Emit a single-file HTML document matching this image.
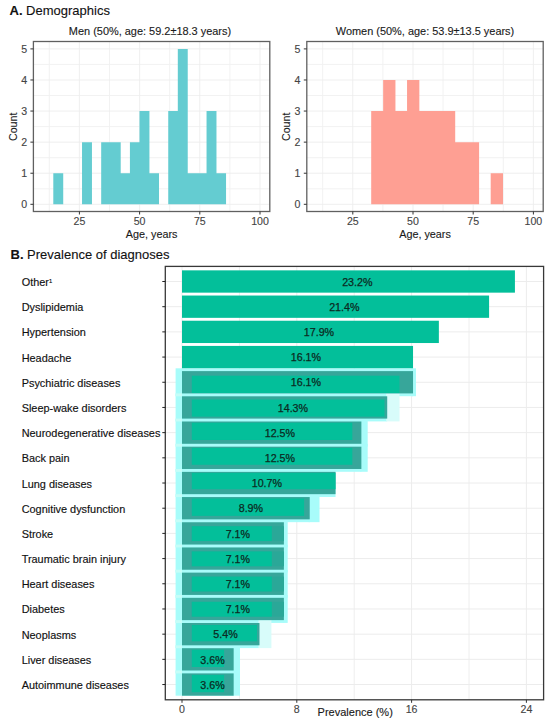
<!DOCTYPE html>
<html><head><meta charset="utf-8"><style>
html,body{margin:0;padding:0;background:#fff;}
svg{display:block;font-family:"Liberation Sans", sans-serif;}
</style></head><body>
<svg width="550" height="723" viewBox="0 0 550 723">
<rect x="0" y="0" width="550" height="723" fill="#fff"/>
<text x="9.50" y="15.00" font-size="13" fill="#111" text-anchor="start"  stroke="#111" stroke-width="0.12"><tspan font-weight="bold">A.</tspan> Demographics</text>
<line x1="49.30" y1="41.50" x2="49.30" y2="211.50" stroke="#f0f0f0" stroke-width="0.9"/>
<line x1="109.50" y1="41.50" x2="109.50" y2="211.50" stroke="#f0f0f0" stroke-width="0.9"/>
<line x1="169.70" y1="41.50" x2="169.70" y2="211.50" stroke="#f0f0f0" stroke-width="0.9"/>
<line x1="229.90" y1="41.50" x2="229.90" y2="211.50" stroke="#f0f0f0" stroke-width="0.9"/>
<line x1="33.40" y1="188.76" x2="269.80" y2="188.76" stroke="#f0f0f0" stroke-width="0.9"/>
<line x1="33.40" y1="157.68" x2="269.80" y2="157.68" stroke="#f0f0f0" stroke-width="0.9"/>
<line x1="33.40" y1="126.60" x2="269.80" y2="126.60" stroke="#f0f0f0" stroke-width="0.9"/>
<line x1="33.40" y1="95.52" x2="269.80" y2="95.52" stroke="#f0f0f0" stroke-width="0.9"/>
<line x1="33.40" y1="64.44" x2="269.80" y2="64.44" stroke="#f0f0f0" stroke-width="0.9"/>
<line x1="79.40" y1="41.50" x2="79.40" y2="211.50" stroke="#ededed" stroke-width="0.9"/>
<line x1="139.60" y1="41.50" x2="139.60" y2="211.50" stroke="#ededed" stroke-width="0.9"/>
<line x1="199.80" y1="41.50" x2="199.80" y2="211.50" stroke="#ededed" stroke-width="0.9"/>
<line x1="260.00" y1="41.50" x2="260.00" y2="211.50" stroke="#ededed" stroke-width="0.9"/>
<line x1="33.40" y1="204.30" x2="269.80" y2="204.30" stroke="#ededed" stroke-width="0.9"/>
<line x1="33.40" y1="173.22" x2="269.80" y2="173.22" stroke="#ededed" stroke-width="0.9"/>
<line x1="33.40" y1="142.14" x2="269.80" y2="142.14" stroke="#ededed" stroke-width="0.9"/>
<line x1="33.40" y1="111.06" x2="269.80" y2="111.06" stroke="#ededed" stroke-width="0.9"/>
<line x1="33.40" y1="79.98" x2="269.80" y2="79.98" stroke="#ededed" stroke-width="0.9"/>
<line x1="33.40" y1="48.90" x2="269.80" y2="48.90" stroke="#ededed" stroke-width="0.9"/>
<path d="M53.30 204.30V173.22H63.23V204.30ZM82.03 204.30V142.14H91.96V204.30ZM101.19 204.30V142.14H111.12V204.30ZM110.77 204.30V142.14H120.70V204.30ZM120.35 204.30V173.22H130.27V204.30ZM129.92 204.30V142.14H139.85V204.30ZM139.50 204.30V111.06H149.43V204.30ZM149.08 204.30V173.22H159.01V204.30ZM168.24 204.30V111.06H178.16V204.30ZM177.81 204.30V48.90H187.74V204.30ZM187.39 204.30V173.22H197.32V204.30ZM196.97 204.30V173.22H206.90V204.30ZM206.55 204.30V111.06H216.48V204.30ZM216.13 204.30V173.22H226.05V204.30Z" fill="#64ccd1"/>
<rect x="33.40" y="41.50" width="236.40" height="170.00" fill="none" stroke="#606060" stroke-width="1.3"/>
<line x1="30.40" y1="204.30" x2="33.40" y2="204.30" stroke="#333" stroke-width="1"/>
<text x="27.10" y="208.10" font-size="10.6" fill="#444444" text-anchor="end"  stroke="#444444" stroke-width="0.12">0</text>
<line x1="30.40" y1="173.22" x2="33.40" y2="173.22" stroke="#333" stroke-width="1"/>
<text x="27.10" y="177.02" font-size="10.6" fill="#444444" text-anchor="end"  stroke="#444444" stroke-width="0.12">1</text>
<line x1="30.40" y1="142.14" x2="33.40" y2="142.14" stroke="#333" stroke-width="1"/>
<text x="27.10" y="145.94" font-size="10.6" fill="#444444" text-anchor="end"  stroke="#444444" stroke-width="0.12">2</text>
<line x1="30.40" y1="111.06" x2="33.40" y2="111.06" stroke="#333" stroke-width="1"/>
<text x="27.10" y="114.86" font-size="10.6" fill="#444444" text-anchor="end"  stroke="#444444" stroke-width="0.12">3</text>
<line x1="30.40" y1="79.98" x2="33.40" y2="79.98" stroke="#333" stroke-width="1"/>
<text x="27.10" y="83.78" font-size="10.6" fill="#444444" text-anchor="end"  stroke="#444444" stroke-width="0.12">4</text>
<line x1="30.40" y1="48.90" x2="33.40" y2="48.90" stroke="#333" stroke-width="1"/>
<text x="27.10" y="52.70" font-size="10.6" fill="#444444" text-anchor="end"  stroke="#444444" stroke-width="0.12">5</text>
<line x1="79.40" y1="211.50" x2="79.40" y2="214.50" stroke="#333" stroke-width="1"/>
<text x="79.40" y="225.30" font-size="10.6" fill="#444444" text-anchor="middle"  stroke="#444444" stroke-width="0.12">25</text>
<line x1="139.60" y1="211.50" x2="139.60" y2="214.50" stroke="#333" stroke-width="1"/>
<text x="139.60" y="225.30" font-size="10.6" fill="#444444" text-anchor="middle"  stroke="#444444" stroke-width="0.12">50</text>
<line x1="199.80" y1="211.50" x2="199.80" y2="214.50" stroke="#333" stroke-width="1"/>
<text x="199.80" y="225.30" font-size="10.6" fill="#444444" text-anchor="middle"  stroke="#444444" stroke-width="0.12">75</text>
<line x1="260.00" y1="211.50" x2="260.00" y2="214.50" stroke="#333" stroke-width="1"/>
<text x="260.00" y="225.30" font-size="10.6" fill="#444444" text-anchor="middle"  stroke="#444444" stroke-width="0.12">100</text>
<text x="150.00" y="35.00" font-size="10.95" fill="#1a1a1a" text-anchor="middle"  stroke="#1a1a1a" stroke-width="0.12">Men (50%, age: 59.2±18.3 years)</text>
<text x="151.60" y="238.00" font-size="10.8" fill="#1a1a1a" text-anchor="middle"  stroke="#1a1a1a" stroke-width="0.12">Age, years</text>
<text transform="translate(16.80,126.8) rotate(-90)" font-size="10.6" fill="#1a1a1a" stroke="#1a1a1a" stroke-width="0.12" text-anchor="middle">Count</text>
<line x1="322.70" y1="41.50" x2="322.70" y2="211.50" stroke="#f0f0f0" stroke-width="0.9"/>
<line x1="382.90" y1="41.50" x2="382.90" y2="211.50" stroke="#f0f0f0" stroke-width="0.9"/>
<line x1="443.10" y1="41.50" x2="443.10" y2="211.50" stroke="#f0f0f0" stroke-width="0.9"/>
<line x1="503.30" y1="41.50" x2="503.30" y2="211.50" stroke="#f0f0f0" stroke-width="0.9"/>
<line x1="306.80" y1="188.76" x2="543.20" y2="188.76" stroke="#f0f0f0" stroke-width="0.9"/>
<line x1="306.80" y1="157.68" x2="543.20" y2="157.68" stroke="#f0f0f0" stroke-width="0.9"/>
<line x1="306.80" y1="126.60" x2="543.20" y2="126.60" stroke="#f0f0f0" stroke-width="0.9"/>
<line x1="306.80" y1="95.52" x2="543.20" y2="95.52" stroke="#f0f0f0" stroke-width="0.9"/>
<line x1="306.80" y1="64.44" x2="543.20" y2="64.44" stroke="#f0f0f0" stroke-width="0.9"/>
<line x1="352.80" y1="41.50" x2="352.80" y2="211.50" stroke="#ededed" stroke-width="0.9"/>
<line x1="413.00" y1="41.50" x2="413.00" y2="211.50" stroke="#ededed" stroke-width="0.9"/>
<line x1="473.20" y1="41.50" x2="473.20" y2="211.50" stroke="#ededed" stroke-width="0.9"/>
<line x1="533.40" y1="41.50" x2="533.40" y2="211.50" stroke="#ededed" stroke-width="0.9"/>
<line x1="306.80" y1="204.30" x2="543.20" y2="204.30" stroke="#ededed" stroke-width="0.9"/>
<line x1="306.80" y1="173.22" x2="543.20" y2="173.22" stroke="#ededed" stroke-width="0.9"/>
<line x1="306.80" y1="142.14" x2="543.20" y2="142.14" stroke="#ededed" stroke-width="0.9"/>
<line x1="306.80" y1="111.06" x2="543.20" y2="111.06" stroke="#ededed" stroke-width="0.9"/>
<line x1="306.80" y1="79.98" x2="543.20" y2="79.98" stroke="#ededed" stroke-width="0.9"/>
<line x1="306.80" y1="48.90" x2="543.20" y2="48.90" stroke="#ededed" stroke-width="0.9"/>
<path d="M371.20 204.30V111.06H383.50V204.30ZM383.15 204.30V79.98H395.45V204.30ZM395.10 204.30V111.06H407.40V204.30ZM407.05 204.30V79.98H419.35V204.30ZM419.00 204.30V111.06H431.30V204.30ZM430.95 204.30V111.06H443.25V204.30ZM442.90 204.30V111.06H455.20V204.30ZM454.85 204.30V142.14H467.15V204.30ZM466.80 204.30V142.14H479.10V204.30ZM490.70 204.30V173.22H503.00V204.30Z" fill="#fe9f93"/>
<rect x="306.80" y="41.50" width="236.40" height="170.00" fill="none" stroke="#606060" stroke-width="1.3"/>
<line x1="303.80" y1="204.30" x2="306.80" y2="204.30" stroke="#333" stroke-width="1"/>
<text x="300.50" y="208.10" font-size="10.6" fill="#444444" text-anchor="end"  stroke="#444444" stroke-width="0.12">0</text>
<line x1="303.80" y1="173.22" x2="306.80" y2="173.22" stroke="#333" stroke-width="1"/>
<text x="300.50" y="177.02" font-size="10.6" fill="#444444" text-anchor="end"  stroke="#444444" stroke-width="0.12">1</text>
<line x1="303.80" y1="142.14" x2="306.80" y2="142.14" stroke="#333" stroke-width="1"/>
<text x="300.50" y="145.94" font-size="10.6" fill="#444444" text-anchor="end"  stroke="#444444" stroke-width="0.12">2</text>
<line x1="303.80" y1="111.06" x2="306.80" y2="111.06" stroke="#333" stroke-width="1"/>
<text x="300.50" y="114.86" font-size="10.6" fill="#444444" text-anchor="end"  stroke="#444444" stroke-width="0.12">3</text>
<line x1="303.80" y1="79.98" x2="306.80" y2="79.98" stroke="#333" stroke-width="1"/>
<text x="300.50" y="83.78" font-size="10.6" fill="#444444" text-anchor="end"  stroke="#444444" stroke-width="0.12">4</text>
<line x1="303.80" y1="48.90" x2="306.80" y2="48.90" stroke="#333" stroke-width="1"/>
<text x="300.50" y="52.70" font-size="10.6" fill="#444444" text-anchor="end"  stroke="#444444" stroke-width="0.12">5</text>
<line x1="352.80" y1="211.50" x2="352.80" y2="214.50" stroke="#333" stroke-width="1"/>
<text x="352.80" y="225.30" font-size="10.6" fill="#444444" text-anchor="middle"  stroke="#444444" stroke-width="0.12">25</text>
<line x1="413.00" y1="211.50" x2="413.00" y2="214.50" stroke="#333" stroke-width="1"/>
<text x="413.00" y="225.30" font-size="10.6" fill="#444444" text-anchor="middle"  stroke="#444444" stroke-width="0.12">50</text>
<line x1="473.20" y1="211.50" x2="473.20" y2="214.50" stroke="#333" stroke-width="1"/>
<text x="473.20" y="225.30" font-size="10.6" fill="#444444" text-anchor="middle"  stroke="#444444" stroke-width="0.12">75</text>
<line x1="533.40" y1="211.50" x2="533.40" y2="214.50" stroke="#333" stroke-width="1"/>
<text x="533.40" y="225.30" font-size="10.6" fill="#444444" text-anchor="middle"  stroke="#444444" stroke-width="0.12">100</text>
<text x="425.00" y="35.00" font-size="10.95" fill="#1a1a1a" text-anchor="middle"  stroke="#1a1a1a" stroke-width="0.12">Women (50%, age: 53.9±13.5 years)</text>
<text x="425.00" y="238.00" font-size="10.8" fill="#1a1a1a" text-anchor="middle"  stroke="#1a1a1a" stroke-width="0.12">Age, years</text>
<text transform="translate(290.20,126.8) rotate(-90)" font-size="10.6" fill="#1a1a1a" stroke="#1a1a1a" stroke-width="0.12" text-anchor="middle">Count</text>
<text x="10.50" y="258.70" font-size="13" fill="#111" text-anchor="start"  stroke="#111" stroke-width="0.12"><tspan font-weight="bold">B.</tspan> Prevalence of diagnoses</text>
<line x1="239.40" y1="266.40" x2="239.40" y2="699.80" stroke="#eeeeee" stroke-width="1"/>
<line x1="354.20" y1="266.40" x2="354.20" y2="699.80" stroke="#eeeeee" stroke-width="1"/>
<line x1="469.00" y1="266.40" x2="469.00" y2="699.80" stroke="#eeeeee" stroke-width="1"/>
<line x1="182.00" y1="266.40" x2="182.00" y2="699.80" stroke="#ececec" stroke-width="1"/>
<line x1="296.80" y1="266.40" x2="296.80" y2="699.80" stroke="#ececec" stroke-width="1"/>
<line x1="411.60" y1="266.40" x2="411.60" y2="699.80" stroke="#ececec" stroke-width="1"/>
<line x1="526.40" y1="266.40" x2="526.40" y2="699.80" stroke="#ececec" stroke-width="1"/>
<line x1="165.30" y1="281.50" x2="543.60" y2="281.50" stroke="#ececec" stroke-width="1"/>
<line x1="165.30" y1="306.69" x2="543.60" y2="306.69" stroke="#ececec" stroke-width="1"/>
<line x1="165.30" y1="331.88" x2="543.60" y2="331.88" stroke="#ececec" stroke-width="1"/>
<line x1="165.30" y1="357.07" x2="543.60" y2="357.07" stroke="#ececec" stroke-width="1"/>
<line x1="165.30" y1="382.26" x2="543.60" y2="382.26" stroke="#ececec" stroke-width="1"/>
<line x1="165.30" y1="407.45" x2="543.60" y2="407.45" stroke="#ececec" stroke-width="1"/>
<line x1="165.30" y1="432.64" x2="543.60" y2="432.64" stroke="#ececec" stroke-width="1"/>
<line x1="165.30" y1="457.83" x2="543.60" y2="457.83" stroke="#ececec" stroke-width="1"/>
<line x1="165.30" y1="483.02" x2="543.60" y2="483.02" stroke="#ececec" stroke-width="1"/>
<line x1="165.30" y1="508.21" x2="543.60" y2="508.21" stroke="#ececec" stroke-width="1"/>
<line x1="165.30" y1="533.40" x2="543.60" y2="533.40" stroke="#ececec" stroke-width="1"/>
<line x1="165.30" y1="558.59" x2="543.60" y2="558.59" stroke="#ececec" stroke-width="1"/>
<line x1="165.30" y1="583.78" x2="543.60" y2="583.78" stroke="#ececec" stroke-width="1"/>
<line x1="165.30" y1="608.97" x2="543.60" y2="608.97" stroke="#ececec" stroke-width="1"/>
<line x1="165.30" y1="634.16" x2="543.60" y2="634.16" stroke="#ececec" stroke-width="1"/>
<line x1="165.30" y1="659.35" x2="543.60" y2="659.35" stroke="#ececec" stroke-width="1"/>
<line x1="165.30" y1="684.54" x2="543.60" y2="684.54" stroke="#ececec" stroke-width="1"/>
<rect x="175.60" y="368.31" width="237.44" height="27.90" fill="#a8fcfa" />
<rect x="412.04" y="368.31" width="3.96" height="27.90" fill="#a8fcfa" />
<rect x="175.60" y="393.50" width="211.61" height="27.90" fill="#a8fcfa" />
<rect x="386.21" y="393.50" width="13.29" height="27.90" fill="#d8fcfa" />
<rect x="175.60" y="418.69" width="185.78" height="27.90" fill="#a8fcfa" />
<rect x="360.38" y="418.69" width="7.32" height="27.90" fill="#a8fcfa" />
<rect x="175.60" y="443.88" width="185.78" height="27.90" fill="#a8fcfa" />
<rect x="360.38" y="443.88" width="7.32" height="27.90" fill="#a8fcfa" />
<rect x="175.60" y="469.07" width="159.94" height="27.90" fill="#a8fcfa" />
<rect x="175.60" y="494.26" width="134.12" height="27.90" fill="#a8fcfa" />
<rect x="308.72" y="494.26" width="10.78" height="27.90" fill="#a8fcfa" />
<rect x="175.60" y="519.45" width="108.28" height="27.90" fill="#a8fcfa" />
<rect x="282.88" y="519.45" width="4.81" height="27.90" fill="#a8fcfa" />
<rect x="175.60" y="544.64" width="108.28" height="27.90" fill="#a8fcfa" />
<rect x="282.88" y="544.64" width="4.81" height="27.90" fill="#a8fcfa" />
<rect x="175.60" y="569.83" width="108.28" height="27.90" fill="#a8fcfa" />
<rect x="282.88" y="569.83" width="4.81" height="27.90" fill="#a8fcfa" />
<rect x="175.60" y="595.02" width="108.28" height="27.90" fill="#a8fcfa" />
<rect x="282.88" y="595.02" width="4.81" height="27.90" fill="#a8fcfa" />
<rect x="175.60" y="620.21" width="83.89" height="27.90" fill="#a8fcfa" />
<rect x="258.49" y="620.21" width="12.91" height="27.90" fill="#d8fcfa" />
<rect x="175.60" y="645.40" width="58.06" height="27.90" fill="#a8fcfa" />
<rect x="232.66" y="645.40" width="7.34" height="27.90" fill="#a8fcfa" />
<rect x="175.60" y="670.59" width="58.06" height="25.10" fill="#a8fcfa" />
<rect x="232.66" y="670.59" width="7.34" height="25.10" fill="#a8fcfa" />
<rect x="175.60" y="393.41" width="6.40" height="2.89" fill="#c6fdf8" />
<rect x="175.60" y="418.60" width="6.40" height="2.89" fill="#c6fdf8" />
<rect x="175.60" y="443.79" width="6.40" height="2.89" fill="#c6fdf8" />
<rect x="175.60" y="468.98" width="6.40" height="2.89" fill="#c6fdf8" />
<rect x="175.60" y="494.17" width="6.40" height="2.89" fill="#c6fdf8" />
<rect x="175.60" y="519.36" width="6.40" height="2.89" fill="#c6fdf8" />
<rect x="175.60" y="544.55" width="6.40" height="2.89" fill="#c6fdf8" />
<rect x="175.60" y="569.74" width="6.40" height="2.89" fill="#c6fdf8" />
<rect x="175.60" y="594.93" width="6.40" height="2.89" fill="#c6fdf8" />
<rect x="175.60" y="620.12" width="6.40" height="2.89" fill="#c6fdf8" />
<rect x="175.60" y="645.31" width="6.40" height="2.89" fill="#c6fdf8" />
<rect x="175.60" y="670.50" width="6.40" height="2.89" fill="#c6fdf8" />
<rect x="182.00" y="270.35" width="332.92" height="22.30" fill="#03bf9a" />
<text x="342.15" y="285.70" font-size="10.7" fill="#0c2a22" text-anchor="start" stroke="#0c2a22" stroke-width="0.25">23.2%</text>
<rect x="182.00" y="295.54" width="307.09" height="22.30" fill="#03bf9a" />
<text x="329.13" y="310.89" font-size="10.7" fill="#0c2a22" text-anchor="start" stroke="#0c2a22" stroke-width="0.25">21.4%</text>
<rect x="182.00" y="320.73" width="256.86" height="22.30" fill="#03bf9a" />
<text x="303.81" y="336.08" font-size="10.7" fill="#0c2a22" text-anchor="start" stroke="#0c2a22" stroke-width="0.25">17.9%</text>
<rect x="182.00" y="345.92" width="231.04" height="22.30" fill="#03bf9a" />
<text x="290.78" y="361.27" font-size="10.7" fill="#0c2a22" text-anchor="start" stroke="#0c2a22" stroke-width="0.25">16.1%</text>
<rect x="182.00" y="371.11" width="231.04" height="22.30" fill="#37a69a" />
<rect x="191.80" y="375.71" width="207.70" height="17.30" fill="#03bf9a" />
<text x="290.78" y="386.46" font-size="10.7" fill="#0c2a22" text-anchor="start" stroke="#0c2a22" stroke-width="0.25">16.1%</text>
<rect x="182.00" y="396.30" width="205.21" height="22.30" fill="#37a69a" />
<rect x="191.80" y="399.50" width="192.70" height="17.10" fill="#03bf9a" />
<text x="277.76" y="411.65" font-size="10.7" fill="#0c2a22" text-anchor="start" stroke="#0c2a22" stroke-width="0.25">14.3%</text>
<rect x="182.00" y="421.49" width="179.38" height="22.30" fill="#37a69a" />
<rect x="191.80" y="422.69" width="160.50" height="17.30" fill="#03bf9a" />
<text x="264.74" y="436.84" font-size="10.7" fill="#0c2a22" text-anchor="start" stroke="#0c2a22" stroke-width="0.25">12.5%</text>
<rect x="182.00" y="446.68" width="179.38" height="22.30" fill="#37a69a" />
<rect x="191.80" y="447.88" width="160.50" height="16.90" fill="#03bf9a" />
<text x="264.74" y="462.03" font-size="10.7" fill="#0c2a22" text-anchor="start" stroke="#0c2a22" stroke-width="0.25">12.5%</text>
<rect x="182.00" y="471.87" width="153.54" height="22.30" fill="#37a69a" />
<rect x="191.80" y="472.87" width="143.70" height="16.30" fill="#03bf9a" />
<text x="251.71" y="487.22" font-size="10.7" fill="#0c2a22" text-anchor="start" stroke="#0c2a22" stroke-width="0.25">10.7%</text>
<rect x="182.00" y="497.06" width="127.72" height="22.30" fill="#37a69a" />
<rect x="191.80" y="498.56" width="112.30" height="17.30" fill="#03bf9a" />
<text x="238.69" y="512.41" font-size="10.7" fill="#0c2a22" text-anchor="start" stroke="#0c2a22" stroke-width="0.25">8.9%</text>
<rect x="182.00" y="522.25" width="101.88" height="22.30" fill="#37a69a" />
<rect x="191.80" y="526.25" width="92.20" height="14.80" fill="#2aa898" />
<rect x="191.80" y="526.25" width="80.00" height="14.80" fill="#03bf9a" />
<text x="225.67" y="537.60" font-size="10.7" fill="#0c2a22" text-anchor="start" stroke="#0c2a22" stroke-width="0.25">7.1%</text>
<rect x="182.00" y="547.44" width="101.88" height="22.30" fill="#37a69a" />
<rect x="191.80" y="551.44" width="92.20" height="14.80" fill="#2aa898" />
<rect x="191.80" y="551.44" width="80.00" height="14.80" fill="#03bf9a" />
<text x="225.67" y="562.79" font-size="10.7" fill="#0c2a22" text-anchor="start" stroke="#0c2a22" stroke-width="0.25">7.1%</text>
<rect x="182.00" y="572.63" width="101.88" height="22.30" fill="#37a69a" />
<rect x="191.80" y="576.63" width="92.20" height="14.80" fill="#2aa898" />
<rect x="191.80" y="576.63" width="80.00" height="14.80" fill="#03bf9a" />
<text x="225.67" y="587.98" font-size="10.7" fill="#0c2a22" text-anchor="start" stroke="#0c2a22" stroke-width="0.25">7.1%</text>
<rect x="182.00" y="597.82" width="101.88" height="22.30" fill="#37a69a" />
<rect x="191.80" y="601.82" width="92.20" height="14.80" fill="#2aa898" />
<rect x="191.80" y="601.82" width="80.00" height="14.80" fill="#03bf9a" />
<text x="225.67" y="613.17" font-size="10.7" fill="#0c2a22" text-anchor="start" stroke="#0c2a22" stroke-width="0.25">7.1%</text>
<rect x="182.00" y="623.01" width="77.49" height="22.30" fill="#37a69a" />
<rect x="191.80" y="625.01" width="65.20" height="16.30" fill="#03bf9a" />
<text x="213.37" y="638.36" font-size="10.7" fill="#0c2a22" text-anchor="start" stroke="#0c2a22" stroke-width="0.25">5.4%</text>
<rect x="182.00" y="648.20" width="51.66" height="22.30" fill="#37a69a" />
<rect x="191.80" y="649.70" width="32.30" height="17.30" fill="#03bf9a" />
<text x="200.35" y="663.55" font-size="10.7" fill="#0c2a22" text-anchor="start" stroke="#0c2a22" stroke-width="0.25">3.6%</text>
<rect x="182.00" y="673.39" width="51.66" height="22.30" fill="#37a69a" />
<rect x="191.80" y="674.89" width="32.30" height="17.30" fill="#03bf9a" />
<text x="200.35" y="688.74" font-size="10.7" fill="#0c2a22" text-anchor="start" stroke="#0c2a22" stroke-width="0.25">3.6%</text>
<rect x="165.30" y="266.40" width="378.30" height="433.40" fill="none" stroke="#383838" stroke-width="1.3"/>
<line x1="162.30" y1="281.50" x2="165.30" y2="281.50" stroke="#222" stroke-width="1"/>
<text x="21.70" y="286.00" font-size="10.9" fill="#111" text-anchor="start" stroke="#111" stroke-width="0.15">Other<tspan font-size="5.8" dx="0.1" dy="-3.3">1</tspan></text>
<line x1="162.30" y1="306.69" x2="165.30" y2="306.69" stroke="#222" stroke-width="1"/>
<text x="21.70" y="311.19" font-size="10.9" fill="#111" text-anchor="start" stroke="#111" stroke-width="0.15">Dyslipidemia</text>
<line x1="162.30" y1="331.88" x2="165.30" y2="331.88" stroke="#222" stroke-width="1"/>
<text x="21.70" y="336.38" font-size="10.9" fill="#111" text-anchor="start" stroke="#111" stroke-width="0.15">Hypertension</text>
<line x1="162.30" y1="357.07" x2="165.30" y2="357.07" stroke="#222" stroke-width="1"/>
<text x="21.70" y="361.57" font-size="10.9" fill="#111" text-anchor="start" stroke="#111" stroke-width="0.15">Headache</text>
<line x1="162.30" y1="382.26" x2="165.30" y2="382.26" stroke="#222" stroke-width="1"/>
<text x="21.70" y="386.76" font-size="10.9" fill="#111" text-anchor="start" stroke="#111" stroke-width="0.15">Psychiatric diseases</text>
<line x1="162.30" y1="407.45" x2="165.30" y2="407.45" stroke="#222" stroke-width="1"/>
<text x="21.70" y="411.95" font-size="10.9" fill="#111" text-anchor="start" stroke="#111" stroke-width="0.15">Sleep-wake disorders</text>
<line x1="162.30" y1="432.64" x2="165.30" y2="432.64" stroke="#222" stroke-width="1"/>
<text x="21.70" y="437.14" font-size="10.9" fill="#111" text-anchor="start" stroke="#111" stroke-width="0.15">Neurodegenerative diseases</text>
<line x1="162.30" y1="457.83" x2="165.30" y2="457.83" stroke="#222" stroke-width="1"/>
<text x="21.70" y="462.33" font-size="10.9" fill="#111" text-anchor="start" stroke="#111" stroke-width="0.15">Back pain</text>
<line x1="162.30" y1="483.02" x2="165.30" y2="483.02" stroke="#222" stroke-width="1"/>
<text x="21.70" y="487.52" font-size="10.9" fill="#111" text-anchor="start" stroke="#111" stroke-width="0.15">Lung diseases</text>
<line x1="162.30" y1="508.21" x2="165.30" y2="508.21" stroke="#222" stroke-width="1"/>
<text x="21.70" y="512.71" font-size="10.9" fill="#111" text-anchor="start" stroke="#111" stroke-width="0.15">Cognitive dysfunction</text>
<line x1="162.30" y1="533.40" x2="165.30" y2="533.40" stroke="#222" stroke-width="1"/>
<text x="21.70" y="537.90" font-size="10.9" fill="#111" text-anchor="start" stroke="#111" stroke-width="0.15">Stroke</text>
<line x1="162.30" y1="558.59" x2="165.30" y2="558.59" stroke="#222" stroke-width="1"/>
<text x="21.70" y="563.09" font-size="10.9" fill="#111" text-anchor="start" stroke="#111" stroke-width="0.15">Traumatic brain injury</text>
<line x1="162.30" y1="583.78" x2="165.30" y2="583.78" stroke="#222" stroke-width="1"/>
<text x="21.70" y="588.28" font-size="10.9" fill="#111" text-anchor="start" stroke="#111" stroke-width="0.15">Heart diseases</text>
<line x1="162.30" y1="608.97" x2="165.30" y2="608.97" stroke="#222" stroke-width="1"/>
<text x="21.70" y="613.47" font-size="10.9" fill="#111" text-anchor="start" stroke="#111" stroke-width="0.15">Diabetes</text>
<line x1="162.30" y1="634.16" x2="165.30" y2="634.16" stroke="#222" stroke-width="1"/>
<text x="21.70" y="638.66" font-size="10.9" fill="#111" text-anchor="start" stroke="#111" stroke-width="0.15">Neoplasms</text>
<line x1="162.30" y1="659.35" x2="165.30" y2="659.35" stroke="#222" stroke-width="1"/>
<text x="21.70" y="663.85" font-size="10.9" fill="#111" text-anchor="start" stroke="#111" stroke-width="0.15">Liver diseases</text>
<line x1="162.30" y1="684.54" x2="165.30" y2="684.54" stroke="#222" stroke-width="1"/>
<text x="21.70" y="689.04" font-size="10.9" fill="#111" text-anchor="start" stroke="#111" stroke-width="0.15">Autoimmune diseases</text>
<line x1="182.00" y1="699.80" x2="182.00" y2="702.80" stroke="#333" stroke-width="1"/>
<text x="182.00" y="712.80" font-size="10.6" fill="#444444" text-anchor="middle"  stroke="#444444" stroke-width="0.12">0</text>
<line x1="296.80" y1="699.80" x2="296.80" y2="702.80" stroke="#333" stroke-width="1"/>
<text x="296.80" y="712.80" font-size="10.6" fill="#444444" text-anchor="middle"  stroke="#444444" stroke-width="0.12">8</text>
<line x1="411.60" y1="699.80" x2="411.60" y2="702.80" stroke="#333" stroke-width="1"/>
<text x="411.60" y="712.80" font-size="10.6" fill="#444444" text-anchor="middle"  stroke="#444444" stroke-width="0.12">16</text>
<line x1="526.40" y1="699.80" x2="526.40" y2="702.80" stroke="#333" stroke-width="1"/>
<text x="526.40" y="712.80" font-size="10.6" fill="#444444" text-anchor="middle"  stroke="#444444" stroke-width="0.12">24</text>
<text x="355.20" y="716.20" font-size="11" fill="#1a1a1a" text-anchor="middle"  stroke="#1a1a1a" stroke-width="0.12">Prevalence (%)</text>
</svg>
</body></html>
